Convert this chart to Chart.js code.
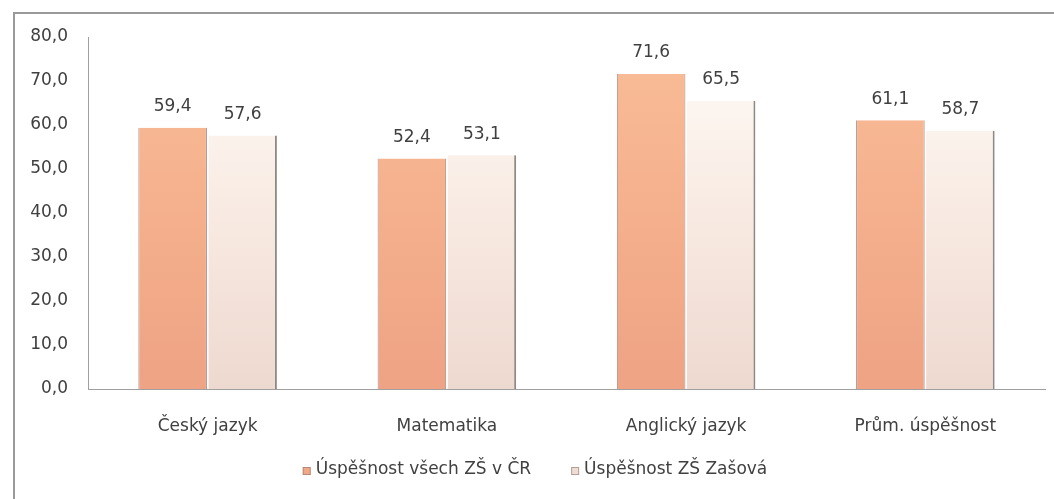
<!DOCTYPE html>
<html><head><meta charset="utf-8">
<script src="https://cdn.jsdelivr.net/npm/chart.js@4/dist/chart.umd.min.js"></script>
<style>
html,body{margin:0;padding:0;background:#fff;overflow:hidden;}
#wrap{position:relative;width:1054px;height:499px;}
#frame{position:absolute;left:13px;top:12px;width:1100px;height:600px;border:2px solid #9a9a9a;box-sizing:border-box;pointer-events:none;}
canvas{position:absolute;left:0;top:0;}
</style></head>
<body><div id="wrap"><div id="frame"></div><canvas id="c" width="1054" height="499"></canvas></div>
<script>
const categories = ["Český jazyk", "Matematika", "Anglický jazyk", "Prům. úspěšnost"];
const seriesNames = ["Úspěšnost všech ZŠ v ČR", "Úspěšnost ZŠ Zašová"];
const valuesCR = [59.4, 52.4, 71.6, 61.1];
const valuesZasova = [57.6, 53.1, 65.5, 58.7];
const yTicks = [0, 10, 20, 30, 40, 50, 60, 70, 80];
const legendColors = ['#F0A887', '#EFDCD3'];

const FONT = "'DejaVu Sans', sans-serif";

function orangeFill(ctx){
  const c = ctx.chart; const a = c.chartArea; if(!a) return '#F4AE8A';
  const g = c.ctx.createLinearGradient(0, a.bottom, 0, a.top);
  g.addColorStop(0, '#EEA384'); g.addColorStop(0.6, '#F6B28E'); g.addColorStop(1, '#F8BE98');
  return g;
}
function creamFill(ctx){
  const c = ctx.chart; const a = c.chartArea; if(!a) return '#F8E6DC';
  const g = c.ctx.createLinearGradient(0, a.bottom, 0, a.top);
  g.addColorStop(0, '#EED9D0'); g.addColorStop(0.5, '#F8EAE2'); g.addColorStop(1, '#FFFCF8');
  return g;
}

const labelPlugin = {
  id:'vals',
  afterDatasetsDraw(chart){
    const ctx = chart.ctx;
    ctx.save();
    ctx.font = "17px " + FONT;
    ctx.fillStyle = '#404040';
    ctx.textAlign = 'center';
    ctx.textBaseline = 'middle';
    chart.data.datasets.forEach((ds, di)=>{
      chart.getDatasetMeta(di).data.forEach((bar, i)=>{
        ctx.fillText(ds.data[i].toFixed(1).replace('.', ','), bar.x, bar.y - 21);
      });
    });
    ctx.restore();
  }
};

const legendPlugin = {
  id:'customLegend',
  afterDraw(chart){
    const ctx = chart.ctx;
    ctx.save();
    ctx.font = "17px " + FONT;
    ctx.textBaseline = 'middle';
    ctx.textAlign = 'left';
    const box = 8, gap = 5, itemGap = 40;
    const names = chart.data.datasets.map(d=>d.label);
    const widths = names.map(n=>box + gap + ctx.measureText(n).width);
    const total = widths.reduce((a,b)=>a+b,0) + itemGap*(names.length-1);
    let x = chart.width/2 + 8 - total/2;
    const y = chart.chartArea.bottom + 81;
    names.forEach((n,i)=>{
      ctx.fillStyle = legendColors[i];
      ctx.fillRect(x, y - box/2 + 1, box, box);
      ctx.strokeStyle = 'rgba(140,120,110,0.6)';
      ctx.lineWidth = 1;
      ctx.strokeRect(x+0.5, y - box/2 + 1.5, box-1, box-1);
      ctx.fillStyle = '#404040';
      ctx.fillText(n, x + box + gap, y);
      x += widths[i] + itemGap;
    });
    ctx.restore();
  }
};

new Chart(document.getElementById('c'), {
  type:'bar',
  data:{
    labels: categories,
    datasets:[
      {label: seriesNames[0], data: valuesCR, backgroundColor: orangeFill,
       borderColor:'#A88C80', borderWidth:{left:1,right:1,top:0,bottom:0}, borderSkipped:false},
      {label: seriesNames[1], data: valuesZasova, backgroundColor: creamFill,
       borderColor:'#8f8985', borderWidth:{left:0,right:2,top:0,bottom:0}, borderSkipped:false}
    ]
  },
  options:{
    responsive:false, animation:false,
    layout:{padding:{left:0, right:9, top:37, bottom:48}},
    datasets:{bar:{categoryPercentage:0.585, barPercentage:0.98}},
    scales:{
      x:{
        grid:{display:false, drawTicks:false},
        border:{color:'#a0a0a0', width:1},
        ticks:{color:'#404040', font:{family:FONT, size:17}, padding:27},
        afterFit(s){ s.height = 62; }
      },
      y:{
        min:0, max:80,
        afterBuildTicks(s){ s.ticks = yTicks.map(v=>({value:v})); },
        grid:{display:false, drawTicks:false},
        border:{color:'#a0a0a0', width:1},
        ticks:{color:'#404040', font:{family:FONT, size:17}, padding:20,
               callback:v=>Number(v).toFixed(1).replace('.', ',')},
        afterFit(s){ s.width = 88; }
      }
    },
    plugins:{
      legend:{display:false},
      tooltip:{enabled:false}
    }
  },
  plugins:[labelPlugin, legendPlugin]
});
</script></body></html>
